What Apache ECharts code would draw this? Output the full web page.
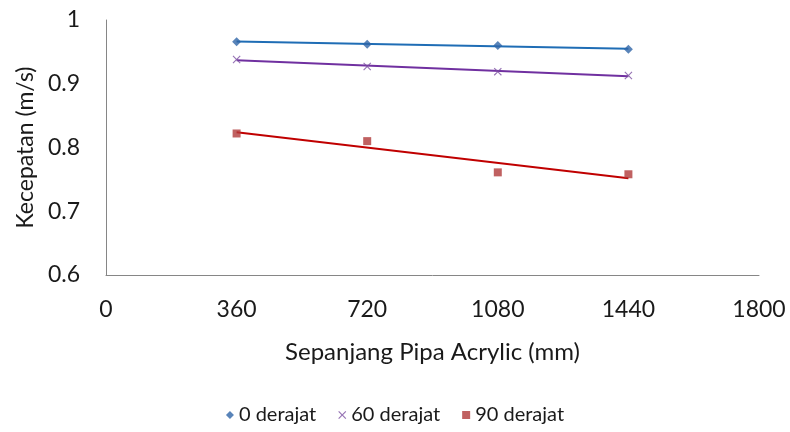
<!DOCTYPE html>
<html>
<head>
<meta charset="utf-8">
<script src="https://cdn.jsdelivr.net/npm/echarts@6/dist/echarts.min.js"></script>
<style>
  html, body { margin: 0; padding: 0; background: #ffffff; }
  #chart { width: 790px; height: 432px; }
</style>
</head>
<body>
<div id="chart"></div>
<script>
// Pipe positions along the acrylic pipe (mm)
const positions = [360, 720, 1080, 1440];
// Flow velocity (m/s) for each pipe angle
const deg0 = [0.966, 0.962, 0.960, 0.954];
const deg60 = [0.938, 0.927, 0.919, 0.913];
const deg90 = [0.822, 0.810, 0.761, 0.758];
const seriesNames = ['0 derajat', '60 derajat', '90 derajat'];
const xTicks = [0, 360, 720, 1080, 1440, 1800];
const yTicks = [0.6, 0.7, 0.8, 0.9, 1];

const FONT = 'Lato';
const TEXT = '#1a1a1a';
const crossPath = 'path://M0,1 L1,0 L5,4 L9,0 L10,1 L6,5 L10,9 L9,10 L5,6 L1,10 L0,9 L4,5 Z';

// least-squares linear trend through the measured points
function trend(xs, ys) {
  const n = xs.length;
  const mx = xs.reduce((a, b) => a + b, 0) / n;
  const my = ys.reduce((a, b) => a + b, 0) / n;
  let sxy = 0, sxx = 0;
  for (let i = 0; i < n; i++) {
    sxy += (xs[i] - mx) * (ys[i] - my);
    sxx += (xs[i] - mx) * (xs[i] - mx);
  }
  const k = sxy / sxx;
  const x0 = xs[0], x1 = xs[n - 1];
  return [[x0, my + k * (x0 - mx)], [x1, my + k * (x1 - mx)]];
}
const pts = ys => positions.map((x, i) => [x, ys[i]]);

const chart = echarts.init(document.getElementById('chart'), null, { renderer: 'canvas' });
chart.setOption({
  animation: false,
  backgroundColor: '#ffffff',
  textStyle: { fontFamily: FONT },
  grid: { left: 106, top: 20, right: 31, bottom: 157, containLabel: false },
  xAxis: {
    type: 'value', min: xTicks[0], max: xTicks[xTicks.length - 1], interval: 360,
    name: 'Sepanjang Pipa Acrylic (mm)', nameLocation: 'middle', nameGap: 65,
    nameTextStyle: { fontFamily: FONT, fontSize: 24, color: TEXT },
    axisLine: { show: true, lineStyle: { color: '#868686', width: 1 } },
    axisTick: { show: false },
    splitLine: { show: false },
    axisLabel: { fontFamily: FONT, fontSize: 23, color: TEXT, margin: 23,
      formatter: v => String(v) }
  },
  yAxis: {
    type: 'value', min: yTicks[0], max: yTicks[yTicks.length - 1], interval: 0.1,
    name: 'Kecepatan (m/s)', nameLocation: 'middle', nameGap: 67, nameRotate: 90,
    nameTextStyle: { fontFamily: FONT, fontSize: 23, color: TEXT },
    axisLine: { show: true, lineStyle: { color: '#868686', width: 1 } },
    axisTick: { show: false },
    splitLine: { show: false },
    axisLabel: { fontFamily: FONT, fontSize: 23, color: TEXT, margin: 26,
      formatter: v => String(Math.round(v * 10) / 10) }
  },
  legend: {
    bottom: 2, left: 'center', itemGap: 22, itemWidth: 8, itemHeight: 8,
    textStyle: { fontFamily: FONT, fontSize: 20, color: TEXT },
    data: [
      { name: seriesNames[0], icon: 'diamond' },
      { name: seriesNames[1], icon: crossPath },
      { name: seriesNames[2], icon: 'rect' }
    ]
  },
  series: [
    { name: seriesNames[0], type: 'scatter', data: pts(deg0), symbol: 'diamond', symbolSize: 9,
      itemStyle: { color: '#2f65a8' }, z: 5 },
    { name: seriesNames[1], type: 'scatter', data: pts(deg60), symbol: crossPath, symbolSize: 8,
      itemStyle: { color: '#7a4fa0' }, z: 5 },
    { name: seriesNames[2], type: 'scatter', data: pts(deg90), symbol: 'rect', symbolSize: 8,
      itemStyle: { color: '#b03a3a' }, z: 5 },
    { name: 'trend0', type: 'line', data: trend(positions, deg0), symbol: 'none',
      lineStyle: { color: '#1f6db5', width: 2 }, z: 3, silent: true },
    { name: 'trend60', type: 'line', data: trend(positions, deg60), symbol: 'none',
      lineStyle: { color: '#7030a0', width: 2 }, z: 3, silent: true },
    { name: 'trend90', type: 'line', data: trend(positions, deg90), symbol: 'none',
      lineStyle: { color: '#c00000', width: 2 }, z: 3, silent: true }
  ]
});
</script>
</body>
</html>
